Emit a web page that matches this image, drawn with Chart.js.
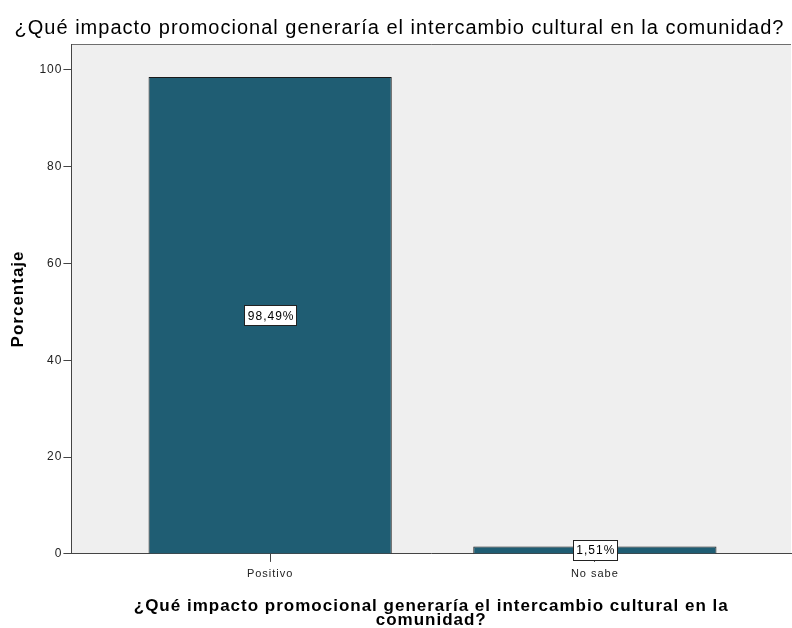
<!DOCTYPE html>
<html>
<head>
<meta charset="utf-8">
<script src="https://cdn.jsdelivr.net/npm/chart.js@4.4.1/dist/chart.umd.min.js"></script>
<style>
  html, body { margin: 0; padding: 0; background: #fff; }
  #wrap { width: 792px; height: 628px; }
</style>
</head>
<body>
<div id="wrap"><canvas id="impactoChart" width="792" height="628"></canvas></div>
<script>
const categorias = ['Positivo', 'No sabe'];
const porcentajes = [98.49, 1.51];
const etiquetas = ['98,49%', '1,51%'];
const ticksY = [0, 20, 40, 60, 80, 100];

const fuente = '"Liberation Sans", Arial, sans-serif';

// SPSS text looks spaced out, so add a little letter spacing to everything
const espaciado = {
    id: 'espaciado',
    beforeUpdate(chart) { chart.ctx.letterSpacing = '1px'; },
    beforeLayout(chart) { chart.ctx.letterSpacing = '1px'; },
    beforeDraw(chart) { chart.ctx.letterSpacing = '1px'; }
};

const fondoPlot = {
    id: 'fondoPlot',
    beforeDraw(chart) {
        const a = chart.chartArea;
        const c = chart.ctx;
        c.save();
        c.fillStyle = '#efefef';
        c.fillRect(a.left, a.top, a.right - a.left, a.bottom - a.top);
        c.strokeStyle = '#6e6e6e';
        c.lineWidth = 1;
        c.beginPath();
        c.moveTo(a.left, a.top + 0.5);
        c.lineTo(a.right, a.top + 0.5);
        c.stroke();
        c.restore();
    }
};

const etiquetasBarras = {
    id: 'etiquetasBarras',
    afterDatasetsDraw(chart) {
        const c = chart.ctx;
        const meta = chart.getDatasetMeta(0);
        c.save();
        c.font = '12px ' + fuente;
        c.textAlign = 'center';
        c.textBaseline = 'middle';
        meta.data.forEach((bar, i) => {
            const txt = etiquetas[i];
            const cy = (bar.y + bar.base) / 2;
            const w = Math.round(c.measureText(txt).width + 5);
            const h = 20;
            const x0 = Math.round(bar.x - w / 2);
            const y0 = Math.round(cy - h / 2);
            c.fillStyle = '#ffffff';
            c.fillRect(x0, y0, w, h);
            c.strokeStyle = '#222';
            c.lineWidth = 1;
            c.strokeRect(x0 + 0.5, y0 + 0.5, w, h);
            c.fillStyle = '#000';
            c.fillText(txt, bar.x + 1, cy + 1);
        });
        c.restore();
    }
};

const ctx = document.getElementById('impactoChart').getContext('2d');
const impactoChart = new Chart(ctx, {
    type: 'bar',
    data: {
        datasets: [{
            label: 'Porcentaje',
            data: porcentajes.map((v, i) => ({ x: i, y: v })),
            backgroundColor: '#1f5d73',
            borderColor: '#1a1a1a',
            borderWidth: 1,
            barPercentage: 0.749,
            categoryPercentage: 1
        }]
    },
    options: {
        responsive: false,
        animation: false,
        layout: { padding: { left: 8, right: 1, top: 0, bottom: 0 } },
        plugins: {
            legend: { display: false },
            tooltip: { enabled: false },
            title: {
                display: true,
                text: '¿Qué impacto promocional generaría el intercambio cultural en la comunidad?',
                color: '#000',
                font: { family: fuente, size: 20, weight: 'normal' },
                padding: { top: 16, bottom: 4 }
            }
        },
        scales: {
            x: {
                type: 'linear',
                offset: false,
                min: -0.612,
                max: 1.604,
                afterBuildTicks: axis => { axis.ticks = categorias.map((_, i) => ({ value: i })); },
                ticks: {
                    callback: v => categorias[v],
                    color: '#222',
                    font: { family: fuente, size: 11 },
                    padding: 5,
                    maxRotation: 0
                },
                grid: { offset: false, drawOnChartArea: false, drawTicks: true, tickLength: 8, color: '#444' },
                border: { display: true, color: '#444', width: 1 },
                title: {
                    display: true,
                    text: ['¿Qué impacto promocional generaría el intercambio cultural en la', 'comunidad?'],
                    color: '#000',
                    font: { family: fuente, size: 17, weight: 'bold', lineHeight: 0.85 },
                    padding: { top: 14, bottom: 0 }
                }
            },
            y: {
                min: 0,
                max: 105.3,
                afterBuildTicks: axis => { axis.ticks = ticksY.map(v => ({ value: v })); },
                ticks: {
                    color: '#222',
                    font: { family: fuente, size: 12 },
                    padding: 1
                },
                grid: { drawOnChartArea: false, drawTicks: true, tickLength: 8, color: '#444' },
                border: { display: true, color: '#444', width: 1 },
                title: {
                    display: true,
                    text: 'Porcentaje',
                    color: '#000',
                    font: { family: fuente, size: 17, weight: 'bold' },
                    padding: { top: 0, bottom: 10 }
                }
            }
        }
    },
    plugins: [espaciado, fondoPlot, etiquetasBarras]
});
</script>
</body>
</html>
